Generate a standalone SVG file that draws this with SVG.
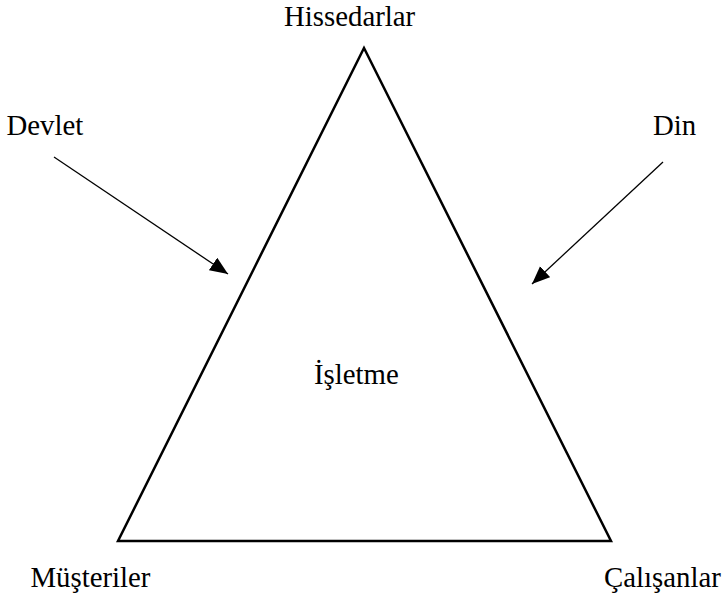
<svg xmlns="http://www.w3.org/2000/svg" width="723" height="601" viewBox="0 0 723 601">
<style>
.t{font-family:'Liberation Serif','Times New Roman',Times,serif;font-size:28.8px;fill:#000}
.tri{fill:none;stroke:#000;stroke-width:2.5;stroke-linejoin:miter}
.arr{fill:none;stroke:#000;stroke-width:1.3}
</style>
<defs>
<marker id="ah" markerUnits="userSpaceOnUse" markerWidth="20" markerHeight="16" refX="18" refY="7.5" orient="auto">
<path d="M0,0 L18,7.5 L0,15 Z" fill="#000"/>
</marker>
</defs>
<rect width="723" height="601" fill="#fff"/>
<g id="isletme">
<polygon class="tri" points="364,48 118,541 611,541"/>
<text class="t" x="314" y="384">İşletme</text>
</g>
<g id="hissedarlar"><text class="t" x="284" y="26">Hissedarlar</text></g>
<g id="devlet"><text class="t" x="6.5" y="135">Devlet</text></g>
<g id="din"><text class="t" x="653" y="135">Din</text></g>
<g id="musteriler"><text class="t" x="30.5" y="587">Müşteriler</text></g>
<g id="calisanlar"><text class="t" x="604" y="587">Çalışanlar</text></g>
<g id="connectors">
<line class="arr" x1="54" y1="157" x2="228" y2="274" marker-end="url(#ah)"/>
<line class="arr" x1="663" y1="162" x2="532" y2="284" marker-end="url(#ah)"/>
</g>
</svg>
